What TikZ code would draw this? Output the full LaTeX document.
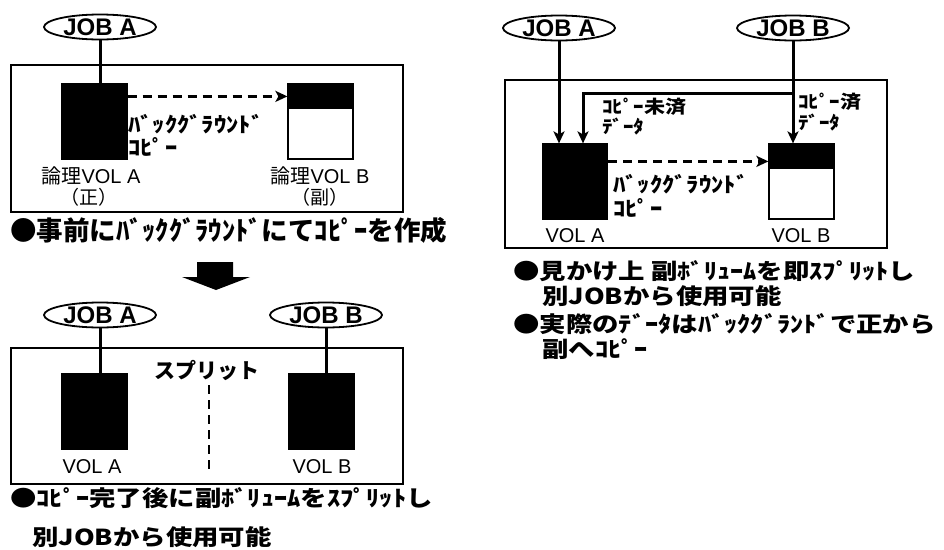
\documentclass[tikz,border=0pt]{standalone}
\usepackage{fontspec}
\setmainfont{Noto Sans CJK JP}
\newfontfamily\latinfont{Liberation Sans}
\usetikzlibrary{shapes.geometric}
\usetikzlibrary{arrows.meta}
\tikzset{
    jobtext/.style={inner sep=0pt, font=\latinfont\fontsize{24}{24}\selectfont\bfseries},
    job/.style={draw, ellipse, line width=1.8pt, minimum width=112, minimum height=25, inner sep=0pt, label={[jobtext]center:#1}},
    frame/.style={draw, line width=1.8pt},
    vol/.style={draw, fill=black, line width=1.2pt, minimum width=65, minimum height=75, inner sep=0pt},
    halfvol/.style={vol, fill=white, path picture={
            \fill[black] (path picture bounding box.north west) rectangle ([yshift=-25pt]path picture bounding box.north east);
        }},
    link/.style={line width=3pt},
    flow/.style={link, -{Stealth[length=12pt, width=11pt, inset=3pt]}},
    bgcopy/.style={flow, line width=2.6pt, dash pattern=on 9pt off 6pt},
    tag/.style={anchor=west, inner sep=0pt, xscale=1.17, font=\fontsize{21}{21}\selectfont\bfseries},
    smalltag/.style={tag, font=\fontsize{18}{18}\selectfont\bfseries},
    volname/.style={inner sep=0pt, font=\latinfont\fontsize{20}{20}\selectfont},
    caption/.style={anchor=west, inner sep=0pt, xscale=1.2, font=\fontsize{22}{22}\selectfont\bfseries}
}

\begin{document}
\begin{tikzpicture}[x=1pt, y=-1pt]
    \useasboundingbox (0,0) rectangle (944,549);

    % before split: background copy
    \draw[frame] (11,65) rectangle (403,212);
    \path
      (100,27) node[job=JOB A] (p-job-a) {}
      (94.5,121.5) node[vol] (p-vol-a) {}
      ++(226,0) node[halfvol] (p-vol-b) {};
    \path
      (128,124) node[tag] (p-bg) {ﾊﾞｯｸｸﾞﾗｳﾝﾄﾞ}
      ++(0,23) node[tag] (p-copy) {ｺﾋﾟｰ}
      (91,176) node[volname] (p-name-a) {{\rmfamily 論理}VOL A}
      ++(-2,21) node[volname, font=\fontsize{19}{19}\selectfont] (p-role-a) {（正）}
      (320,176) node[volname] (p-name-b) {{\rmfamily 論理}VOL B}
      ++(0,21) node[volname, font=\fontsize{19}{19}\selectfont] (p-role-b) {（副）}
      (10,230) node[caption, xscale=1/1.2, font=\fontsize{26.5}{26.5}\selectfont\bfseries] (p-caption) {●事前にﾊﾞｯｸｸﾞﾗｳﾝﾄﾞにてｺﾋﾟｰを作成};

    \draw[link] (p-job-a.south) -- (p-job-a.south |- p-vol-a.north);
    \draw[bgcopy] ([yshift=-13pt]p-vol-a.north east) -- ([yshift=-13pt]p-vol-b.north west);

    % step arrow
    \fill (197,262) -- (233,262) -- (233,277) -- (250,277) -- (216,290) -- (182,277) -- (197,277) -- cycle;

    % after copy: split
    \draw[frame] (11,348) rectangle (403,484);
    \path
      (100,315) node[job=JOB A] (s-job-a) {}
      ++(226,0) node[job=JOB B] (s-job-b) {}
      (94.5,411.5) node[vol] (s-vol-a) {}
      ++(227,0) node[vol] (s-vol-b) {};
    \path
      (207,370) node[inner sep=0pt, font=\fontsize{21}{21}\selectfont\bfseries] (s-split) {スプリット}
      (92,467) node[volname] (s-name-a) {VOL A}
      (322,467) node[volname] (s-name-b) {VOL B}
      (10,498) node[caption] (s-caption-1) {●ｺﾋﾟｰ完了後に副ﾎﾞﾘｭｰﾑをｽﾌﾟﾘｯﾄし}
      (32,537) node[caption] (s-caption-2) {別JOBから使用可能};
    \coordinate (s-cut-top) at (209,385);
    \coordinate (s-cut-bottom) at (209,473);

    \draw[link] (s-job-a.south) -- (s-job-a.south |- s-vol-a.north);
    \draw[link] (s-job-b.south) -- (s-job-b.south |- s-vol-b.north);
    \draw[line width=2.4pt, dash pattern=on 9pt off 6pt] (s-cut-top) -- (s-cut-bottom);

    % instant split with background copy
    \draw[frame] (505,80) rectangle (887,248);
    \path
      (559,28) node[job=JOB A] (i-job-a) {}
      (793,28) node[job=JOB B] (i-job-b) {}
      (575,181.5) node[vol] (i-vol-a) {}
      ++(226.5,0) node[halfvol] (i-vol-b) {};
    \path
      (602,107) node[smalltag] (i-uncopied) {ｺﾋﾟｰ未済}
      ++(0,20) node[smalltag] (i-uncopied-data) {ﾃﾞｰﾀ}
      (798,102) node[smalltag] (i-copied) {ｺﾋﾟｰ済}
      ++(0,21) node[smalltag] (i-copied-data) {ﾃﾞｰﾀ}
      (613,184) node[tag] (i-bg) {ﾊﾞｯｸｸﾞﾗｳﾝﾄﾞ}
      ++(0,24) node[tag] (i-copy) {ｺﾋﾟｰ}
      (575,236) node[volname] (i-name-a) {VOL A}
      (801,236) node[volname] (i-name-b) {VOL B}
      (513,271) node[caption] (i-caption-1) {●見かけ上 副ﾎﾞﾘｭｰﾑを即ｽﾌﾟﾘｯﾄし}
      (542,296) node[caption] (i-caption-2) {別JOBから使用可能}
      (513,324) node[caption] (i-caption-3) {●実際のﾃﾞｰﾀはﾊﾞｯｸｸﾞﾗﾝﾄﾞで正から}
      (542,349) node[caption] (i-caption-4) {副へｺﾋﾟｰ};
    \coordinate (i-fork) at (793,93);

    \draw[flow] (i-job-a.south) -- (i-job-a.south |- i-vol-a.north);
    \draw[flow] (i-job-b.south) -- (i-job-b.south |- i-vol-b.north);
    \draw[flow] (i-fork) -| ([xshift=8pt]i-vol-a.north);
    \draw[bgcopy] ([yshift=-18pt]i-vol-a.north east) -- ([yshift=-18pt]i-vol-b.north west);
\end{tikzpicture}
\end{document}
